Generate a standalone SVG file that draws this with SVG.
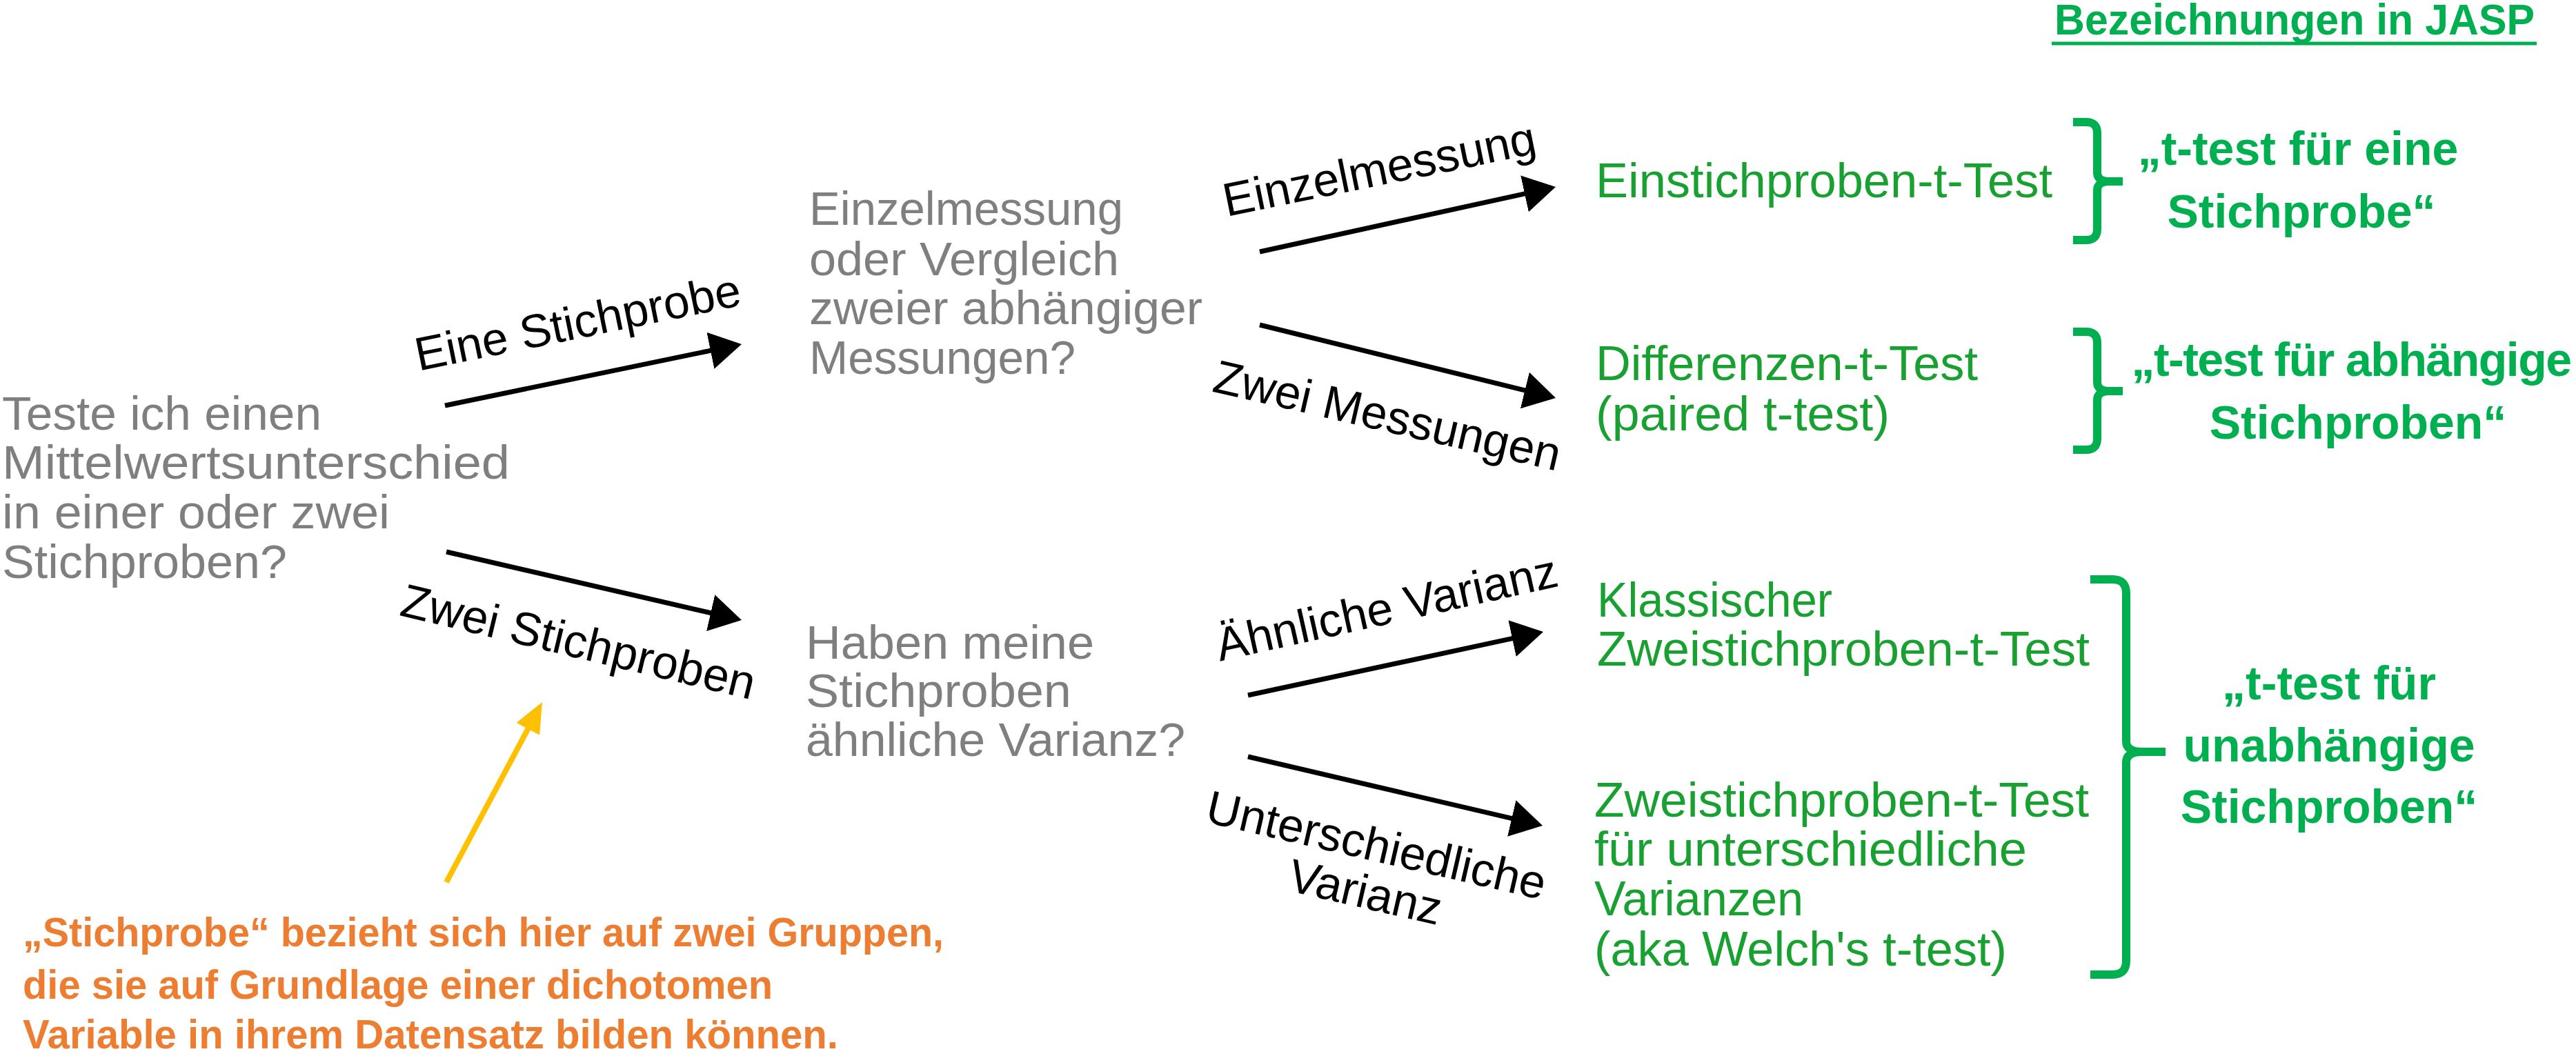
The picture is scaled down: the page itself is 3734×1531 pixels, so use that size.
<svg xmlns="http://www.w3.org/2000/svg" width="3734" height="1531" viewBox="0 0 3734 1531">
<style>
text{font-family:"Liberation Sans",Arial,sans-serif}
.q{font-size:68px;fill:#7f7f7f}
.lbl{font-size:68px;fill:#000;text-anchor:middle}
.res{font-size:70px;fill:#18a030}
.jasp{font-size:68px;font-weight:bold;fill:#00b050;text-anchor:middle}
.note{font-size:59px;font-weight:bold;fill:#ed7d31}
.arr{stroke:#000;stroke-width:7;fill:none;marker-end:url(#ah)}
.yarr{stroke:#ffc000;stroke-width:8;fill:none;marker-end:url(#yh)}
.brace{stroke:#00b050;stroke-width:12;fill:none;stroke-linejoin:round}
</style>
<defs>
<marker id="ah" markerUnits="userSpaceOnUse" viewBox="0 0 46 54" markerWidth="46" markerHeight="54" refX="6" refY="27" orient="auto"><path d="M0,0 L46,27 L0,54 Z" fill="#000"/></marker>
<marker id="yh" markerUnits="userSpaceOnUse" viewBox="0 0 44 38" markerWidth="44" markerHeight="38" refX="6" refY="19" orient="auto"><path d="M0,0 L44,19 L0,38 Z" fill="#ffc000"/></marker>
</defs>
<rect width="3734" height="1531" fill="#fff"/>

<g id="title">
<text x="2978" y="50" font-size="63" font-weight="bold" fill="#00b050" textLength="696" lengthAdjust="spacingAndGlyphs">Bezeichnungen in JASP</text>
<line x1="2974" y1="63" x2="3677" y2="63" stroke="#00b050" stroke-width="5"/>
</g>

<g id="q1">
<text class="q" x="3" y="623" textLength="463" lengthAdjust="spacingAndGlyphs">Teste ich einen</text>
<text class="q" x="3" y="694" textLength="736" lengthAdjust="spacingAndGlyphs">Mittelwertsunterschied</text>
<text class="q" x="3" y="766" textLength="562" lengthAdjust="spacingAndGlyphs">in einer oder zwei</text>
<text class="q" x="3" y="838" textLength="413" lengthAdjust="spacingAndGlyphs">Stichproben?</text>
</g>

<g id="q2">
<text class="q" x="1173" y="326" textLength="455" lengthAdjust="spacingAndGlyphs">Einzelmessung</text>
<text class="q" x="1173" y="399" textLength="449" lengthAdjust="spacingAndGlyphs">oder Vergleich</text>
<text class="q" x="1173" y="470" textLength="570" lengthAdjust="spacingAndGlyphs">zweier abhängiger</text>
<text class="q" x="1173" y="542" textLength="386" lengthAdjust="spacingAndGlyphs">Messungen?</text>
</g>

<g id="q3">
<text class="q" x="1168" y="955" textLength="418" lengthAdjust="spacingAndGlyphs">Haben meine</text>
<text class="q" x="1168" y="1025" textLength="385" lengthAdjust="spacingAndGlyphs">Stichproben</text>
<text class="q" x="1168" y="1096" textLength="550" lengthAdjust="spacingAndGlyphs">ähnliche Varianz?</text>
</g>

<g id="r1">
<text class="res" x="2313" y="286" textLength="662" lengthAdjust="spacingAndGlyphs">Einstichproben-t-Test</text>
</g>
<g id="r2">
<text class="res" x="2313" y="551" textLength="554" lengthAdjust="spacingAndGlyphs">Differenzen-t-Test</text>
<text class="res" x="2313" y="624" textLength="426" lengthAdjust="spacingAndGlyphs">(paired t-test)</text>
</g>
<g id="r3">
<text class="res" x="2315" y="894" textLength="341" lengthAdjust="spacingAndGlyphs">Klassischer</text>
<text class="res" x="2315" y="965" textLength="714" lengthAdjust="spacingAndGlyphs">Zweistichproben-t-Test</text>
</g>
<g id="r4">
<text class="res" x="2311" y="1184" textLength="717" lengthAdjust="spacingAndGlyphs">Zweistichproben-t-Test</text>
<text class="res" x="2311" y="1255" textLength="627" lengthAdjust="spacingAndGlyphs">für unterschiedliche</text>
<text class="res" x="2311" y="1327" textLength="303" lengthAdjust="spacingAndGlyphs">Varianzen</text>
<text class="res" x="2311" y="1400" textLength="598" lengthAdjust="spacingAndGlyphs">(aka Welch's t-test)</text>
</g>

<g id="brace1"><path class="brace" d="M3005,177 H3024 Q3040,177 3040,193 V250 Q3040,263 3058,263 H3077 M3077,263 H3058 Q3040,263 3040,276 V332 Q3040,348 3024,348 H3005"/></g>
<g id="brace2"><path class="brace" d="M3005,481 H3024 Q3040,481 3040,497 V554 Q3040,567 3058,567 H3077 M3077,567 H3058 Q3040,567 3040,580 V636 Q3040,652 3024,652 H3005"/></g>
<g id="brace3"><path class="brace" d="M3030,840 H3062 Q3082,840 3082,860 V1075 Q3082,1090 3105,1090 H3139 M3139,1090 H3105 Q3082,1090 3082,1105 V1393 Q3082,1413 3062,1413 H3030"/></g>

<g id="j1">
<text class="jasp" x="3331" y="239">„t-test für eine</text>
<text class="jasp" x="3336" y="330">Stichprobe“</text>
</g>
<g id="j2">
<text class="jasp" x="3408" y="545" font-size="67" letter-spacing="-1.5">„t-test für abhängige</text>
<text class="jasp" x="3418" y="636">Stichproben“</text>
</g>
<g id="j3">
<text class="jasp" x="3376" y="1014">„t-test für</text>
<text class="jasp" x="3376" y="1104">unabhängige</text>
<text class="jasp" x="3376" y="1193">Stichproben“</text>
</g>

<g id="note">
<text class="note" x="33" y="1372" textLength="1335" lengthAdjust="spacingAndGlyphs">„Stichprobe“ bezieht sich hier auf zwei Gruppen,</text>
<text class="note" x="33" y="1448" textLength="1087" lengthAdjust="spacingAndGlyphs">die sie auf Grundlage einer dichotomen</text>
<text class="note" x="33" y="1520" textLength="1182" lengthAdjust="spacingAndGlyphs">Variable in ihrem Datensatz bilden können.</text>
</g>

<g id="connectors">
<line class="arr" x1="645" y1="588" x2="1035.8" y2="507.1"/>
<line class="arr" x1="647" y1="800" x2="1036" y2="890"/>
<line class="arr" x1="1826" y1="365" x2="2215.9" y2="279.6"/>
<line class="arr" x1="1826" y1="471" x2="2216.2" y2="567.4"/>
<line class="arr" x1="1809" y1="1008" x2="2197.9" y2="924.4"/>
<line class="arr" x1="1809" y1="1097" x2="2197.1" y2="1187.9"/>
<line class="yarr" x1="647" y1="1279" x2="768.1" y2="1051.5"/>
<text class="lbl" x="842" y="490" transform="rotate(-11.5 842 490)">Eine Stichprobe</text>
<text class="lbl" x="833" y="953" transform="rotate(13.5 833 953)">Zwei Stichproben</text>
<text class="lbl" x="2004" y="268" transform="rotate(-11.5 2004 268)">Einzelmessung</text>
<text class="lbl" x="2006" y="625" transform="rotate(13 2006 625)">Zwei Messungen</text>
<text class="lbl" x="2015" y="904" transform="rotate(-12.5 2015 904)">Ähnliche Varianz</text>
<text class="lbl" x="1990" y="1248" transform="rotate(13 1990 1248)">Unterschiedliche</text>
<text class="lbl" x="1974" y="1316" transform="rotate(13 1974 1316)">Varianz</text>
</g>
</svg>
